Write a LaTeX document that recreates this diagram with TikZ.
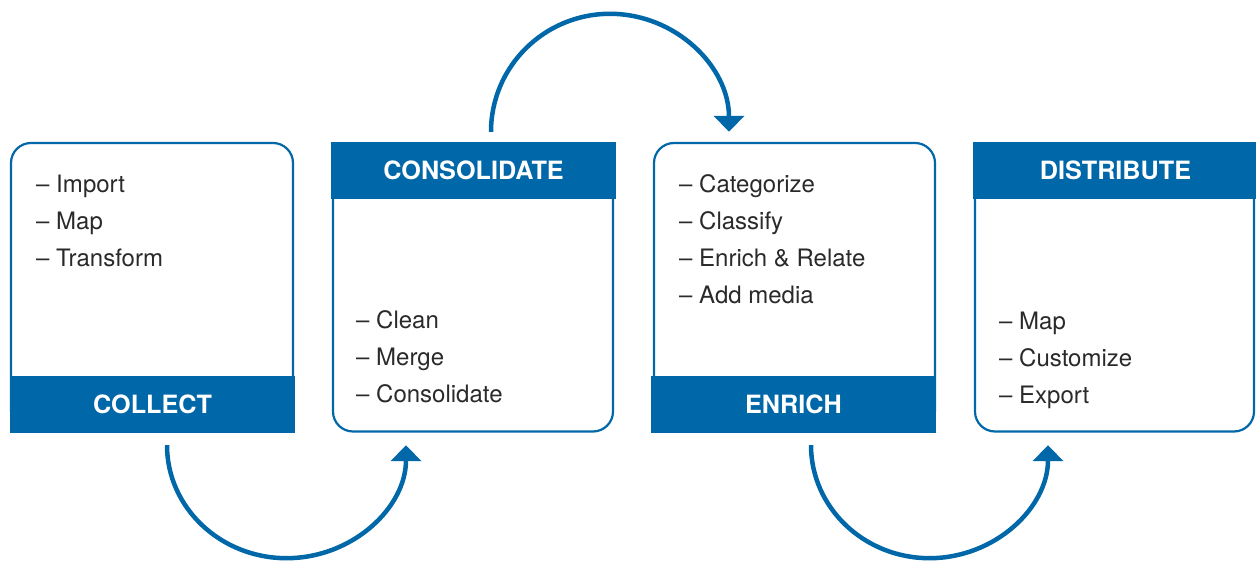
\documentclass[tikz,border=0pt]{standalone}
\usepackage{fontspec}
\setmainfont{TeX Gyre Heros}
\usetikzlibrary{arrows.meta}
\definecolor{flowblue}{HTML}{0067A8}
\definecolor{ink}{HTML}{2A2A2A}
\begin{document}
\begin{tikzpicture}[x=1pt,y=1pt,
  panel/.style={draw=flowblue, line width=2.2pt, fill=white, rounded corners=20pt,
                inner sep=0pt, minimum height=288pt},
  band/.style={fill=flowblue, text=white, inner sep=0pt, minimum width=285pt,
               minimum height=57pt, font=\fontsize{25.2}{29}\selectfont\bfseries},
  item/.style={anchor=base west, inner sep=0pt, text=ink, font=\fontsize{24}{28}\selectfont},
  flow/.style={draw=flowblue, line width=4.5pt, -{Triangle[width=30pt,length=16pt]}}
]
\useasboundingbox (0,0) rectangle (1256,562);

% rounded panels
\node[panel, minimum width=282pt] (collect)     at (152,275)     {};
\node[panel, minimum width=280pt] (consolidate) at (473,274.5)   {};
\node[panel, minimum width=281pt] (enrich)      at (794.5,275)   {};
\node[panel, minimum width=279pt] (distribute)  at (1114.5,274.5) {};

% title bands
\node[band] (collectbar)     at (152.5,157.5)  {COLLECT};
\node[band] (consolidatehead) at (473.5,391.5) {CONSOLIDATE};
\node[band] (enrichbar)      at (793.5,157.5)  {ENRICH};
\node[band] (distributehead) at (1115.5,391.5) {DISTRIBUTE};

% step lists
\node[item] (c1) at (36,369) {– Import};
\node[item] (c2) at (36,332) {– Map};
\node[item] (c3) at (36,295) {– Transform};

\node[item] (k1) at (356,233) {– Clean};
\node[item] (k2) at (356,196) {– Merge};
\node[item] (k3) at (356,159) {– Consolidate};

\node[item] (e1) at (679,369) {– Categorize};
\node[item] (e2) at (679,332) {– Classify};
\node[item] (e3) at (679,295) {– Enrich \& Relate};
\node[item] (e4) at (679,258) {– Add media};

\node[item] (d1) at (999,232) {– Map};
\node[item] (d2) at (999,195) {– Customize};
\node[item] (d3) at (999,158) {– Export};

% half-round arrows between the stages
\draw[flow] ([shift={(14.5,-12)}]collectbar.south)
  arc[start angle=180, end angle=360, x radius=119.5, y radius=113];
\draw[flow] ([shift={(17.5,10)}]consolidatehead.north)
  arc[start angle=180, end angle=0, x radius=119, y radius=118];
\draw[flow] ([shift={(17.5,-12)}]enrichbar.south)
  arc[start angle=180, end angle=360, x radius=118.5, y radius=113];
\end{tikzpicture}
\end{document}
